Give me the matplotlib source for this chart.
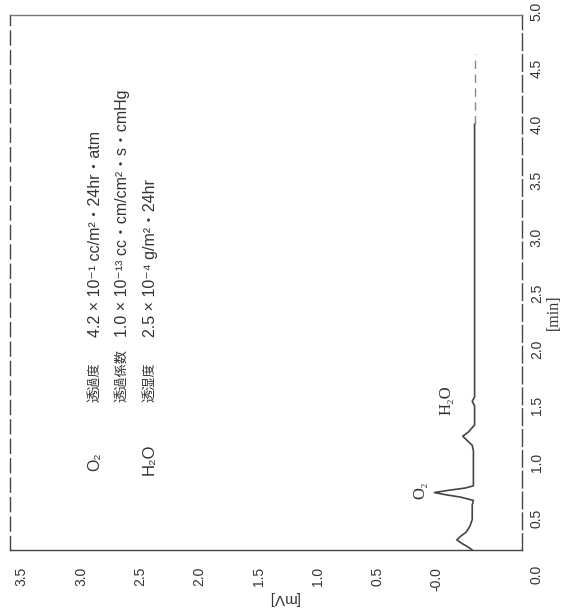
import matplotlib
matplotlib.use("Agg")
import matplotlib.pyplot as plt
import matplotlib.transforms as mtransforms

# ---- data (chromatogram) ----
time_min = [0.22, 0.25, 0.28, 0.31, 0.34, 0.38, 0.43, 0.49, 0.55, 0.62, 0.66,
            0.69, 0.71, 0.73, 0.75, 0.77, 0.79, 0.83, 0.90, 1.00, 1.10, 1.15,
            1.19, 1.23, 1.27, 1.33, 1.40, 1.50, 1.54, 1.56, 1.58, 1.65, 2.00,
            2.50, 3.00, 3.50, 4.00]
signal_mv = [-0.30, -0.26, -0.21, -0.17, -0.20, -0.25, -0.28, -0.30, -0.30, -0.30, -0.31,
             -0.20, -0.08, 0.02, -0.10, -0.24, -0.31, -0.31, -0.31, -0.31, -0.31, -0.30,
             -0.26, -0.22, -0.27, -0.32, -0.32, -0.32, -0.30, -0.31, -0.32, -0.32, -0.32,
             -0.32, -0.32, -0.32, -0.32]
tail_time = [4.00, 4.30, 4.62]
tail_mv = [-0.32, -0.32, -0.32]

mv_ticks = [3.5, 3.0, 2.5, 2.0, 1.5, 1.0, 0.5, 0.0]
mv_labels = ["3.5", "3.0", "2.5", "2.0", "1.5", "1.0", "0.5", "-0.0"]
time_ticks = [0.0, 0.5, 1.0, 1.5, 2.0, 2.5, 3.0, 3.5, 4.0, 4.5, 5.0]
time_labels = ["0.0", "0.5", "1.0", "1.5", "2.0", "2.5", "3.0", "3.5", "4.0", "4.5", "5.0"]

peak_labels = ["O₂", "H₂O"]
peak_label_time = [0.75, 1.55]
peak_label_mv = [0.135, -0.085]

W, H = 566, 612
fig = plt.figure(figsize=(W / 100, H / 100), dpi=100)
ax = fig.add_axes([10 / W, 1 - 550 / H, 512 / W, 535 / H])
ax.set_xlim(3.60, -0.72)
ax.set_ylim(0.22, 4.97)

ax.plot(signal_mv, time_min, color="#444444", lw=1.2, solid_joinstyle="round")
ax.plot(tail_mv, tail_time, color="#888888", lw=1.0, ls=(0, (6, 4)))

sans = ["Liberation Sans", "DejaVu Sans", "Noto Sans CJK JP"]
serif = ["Liberation Serif", "DejaVu Serif"]
cjk = ["Noto Sans CJK JP", "DejaVu Sans"]

# spines
for side in ["left", "right", "top", "bottom"]:
    ax.spines[side].set_color("#444444")
    ax.spines[side].set_linewidth(1.0)
ax.spines["left"].set_linestyle((0, (10, 4)))
ax.spines["right"].set_linestyle((0, (12, 3)))
ax.spines["top"].set_color("#777777")

# mV axis (bottom)
ax.set_xticks(mv_ticks)
ax.set_xticklabels(mv_labels, rotation=90, family=sans, fontsize=10, color="#333333")
ax.tick_params(axis="x", length=0, pad=12)
ax.set_yticks([])

# time axis labels (right side)
trans = mtransforms.blended_transform_factory(ax.transAxes, ax.transData)
for t, lab in zip(time_ticks, time_labels):
    ax.text(1.029, t, lab, transform=trans, rotation=90, ha="center", va="center",
            fontsize=10, family=sans, color="#333333", clip_on=False)

# peak labels
for lab, t, v in zip(peak_labels, peak_label_time, peak_label_mv):
    ax.text(v, t, lab, rotation=90, ha="center", va="center", fontsize=12,
            family=serif, color="#333333")

def ftxt(x, y, s, fam, size, va="center", rot=90):
    fig.text(x / W, 1 - y / H, s, rotation=rot, ha="center", va=va,
             family=fam, fontsize=size, color="#333333")

ftxt(283, 598, "[mV]", sans, 11, rot=180)
ftxt(554, 312, "[min]", serif, 11.5)

# annotation block
ftxt(95, 462, "O₂", sans, 11.5)
ftxt(149, 459, "H₂O", sans, 12)
ftxt(95, 402, "透過度", cjk, 9.5, va="bottom")
ftxt(122, 402, "透過係数", cjk, 9.5, va="bottom")
ftxt(150, 402, "透湿度", cjk, 9.5, va="bottom")
ftxt(95, 337, "4.2 × 10⁻¹ cc/m²・24hr・atm", sans, 11.5, va="bottom")
ftxt(122, 337, "1.0 × 10⁻¹³ cc・cm/cm²・s・cmHg", sans, 11.5, va="bottom")
ftxt(150, 337, "2.5 × 10⁻⁴ g/m²・24hr", sans, 11.5, va="bottom")

fig.savefig("out.png", dpi=100)
